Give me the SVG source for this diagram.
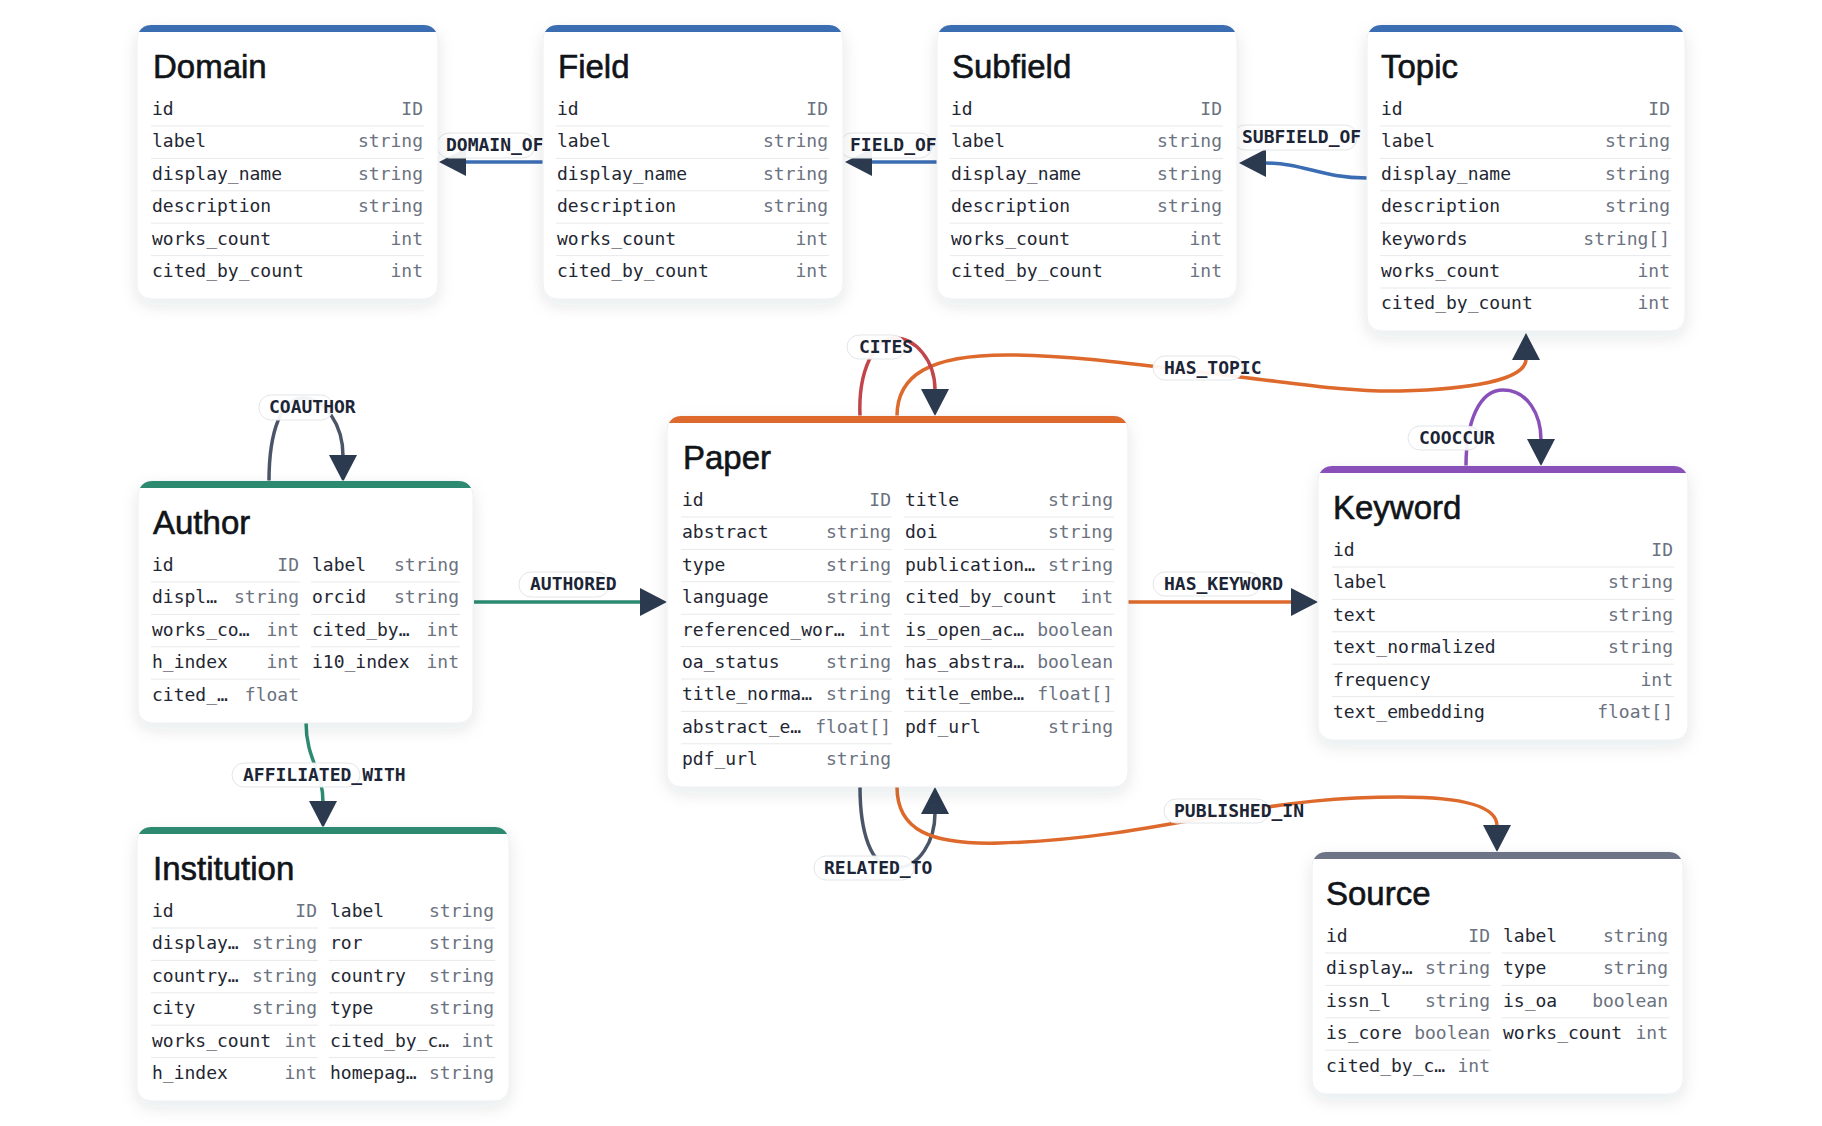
<svg xmlns="http://www.w3.org/2000/svg" width="1822" height="1126" viewBox="0 0 1822 1126">
<defs>
<style>
.title{font-family:"Liberation Sans",Arial,sans-serif;font-size:33px;fill:#111418;stroke:#111418;stroke-width:0.6}
.f{font-family:"DejaVu Sans Mono",monospace;font-size:18px;fill:#1f2733}
.t{font-family:"DejaVu Sans Mono",monospace;font-size:18px;fill:#6b7280;text-anchor:end}
.sep{stroke:#e7e9ec;stroke-width:1}
.card{fill:#ffffff;stroke:#eceef1;stroke-width:1;filter:url(#sh)}
.lb{fill:#ffffff;fill-opacity:0.93;stroke:#e2e5e9;stroke-width:1}
.lt{font-family:"DejaVu Sans Mono",monospace;font-size:18px;font-weight:bold;fill:#1c2536}
.e{fill:none;stroke-width:3.5;marker-end:url(#arr)}
.blue{fill:#3b6db3}.green{fill:#2d8a70}.orange{fill:#dd6a2c}.purple{fill:#8a50ba}.slate{fill:#6c7486}
</style>
<filter id="sh" x="-15%" y="-15%" width="130%" height="140%">
<feDropShadow dx="0" dy="6" stdDeviation="8" flood-color="#1f2937" flood-opacity="0.10"/>
</filter>
<marker id="arr" markerUnits="userSpaceOnUse" markerWidth="27" markerHeight="28" viewBox="0 0 27 28" refX="1" refY="14" orient="auto">
<path d="M0,0 L27,14 L0,28 Z" fill="#2c3a50"/>
</marker>
</defs>
<rect x="0" y="0" width="1822" height="1126" fill="#ffffff"/>

<g id="connectors">
<path id="e-domain-of" class="e" stroke="#3b6db3" d="M543,162 L465,162"/>
<path id="e-field-of" class="e" stroke="#3b6db3" d="M937,162 L871,162"/>
<path id="e-subfield-of" class="e" stroke="#3b6db3" d="M1367,178 C1320,178 1305,163 1265,163"/>
<path id="e-has-topic" class="e" stroke="#dd6a2c" d="M897,416 C897,375 930,355 1007,355 C1080,355 1160,368 1240,377 C1300,384 1350,392 1400,391 C1470,389 1526,380 1526,359"/>
<path id="e-cites" class="e" stroke="#c1454a" d="M860,416 C858,370 875,338 895,338 C915,338 935,360 935,390"/>
<path id="e-has-keyword" class="e" stroke="#dd6a2c" d="M1128,602 L1292,602"/>
<path id="e-cooccur" class="e" stroke="#8a50ba" d="M1466,466 C1466,420 1480,390 1503,390 C1528,390 1541,415 1541,440"/>
<path id="e-authored" class="e" stroke="#2d8a70" d="M474,602 L641,602"/>
<path id="e-coauthor" class="e" stroke="#4a5568" d="M269,481 C269,430 282,398 303,398 C325,398 343,425 343,456"/>
<path id="e-affiliated" class="e" stroke="#2d8a70" d="M306,722 C306,760 323,770 323,802"/>
<path id="e-related-to" class="e" stroke="#4a5568" d="M860,787 C860,830 870,868 895,868 C920,868 935,840 935,813"/>
<path id="e-published-in" class="e" stroke="#dd6a2c" d="M897,787 C897,830 930,845 1000,843 C1080,841 1150,828 1220,815 C1290,802 1340,797 1400,797 C1460,797 1497,805 1497,826"/>

<g id="edge-labels">
<rect class="lb" x="437" y="133" width="98" height="25" rx="12"/><text class="lt" x="446" y="151">DOMAIN_OF</text>
<rect class="lb" x="840" y="133" width="92" height="25" rx="12"/><text class="lt" x="850" y="151">FIELD_OF</text>
<rect class="lb" x="1233" y="125" width="124" height="25" rx="12"/><text class="lt" x="1242" y="143">SUBFIELD_OF</text>
<rect class="lb" x="1153" y="356" width="90" height="24" rx="12"/><text class="lt" x="1164" y="374">HAS_TOPIC</text>
<rect class="lb" x="847" y="335" width="58" height="24" rx="12"/><text class="lt" x="859" y="353">CITES</text>
<rect class="lb" x="1408" y="426" width="72" height="24" rx="12"/><text class="lt" x="1419" y="444">COOCCUR</text>
<rect class="lb" x="1153" y="572" width="107" height="24" rx="12"/><text class="lt" x="1164" y="590">HAS_KEYWORD</text>
<rect class="lb" x="519" y="572" width="90" height="25" rx="12"/><text class="lt" x="530" y="590">AUTHORED</text>
<rect class="lb" x="259" y="395" width="74" height="25" rx="12"/><text class="lt" x="269" y="413">COAUTHOR</text>
<rect class="lb" x="232" y="763" width="128" height="24" rx="12"/><text class="lt" x="243" y="781">AFFILIATED_WITH</text>
<rect class="lb" x="814" y="856" width="100" height="24" rx="12"/><text class="lt" x="824" y="874">RELATED_TO</text>
<rect class="lb" x="1164" y="799" width="105" height="24" rx="12"/><text class="lt" x="1174" y="817">PUBLISHED_IN</text>
</g>
</g>

<g id="node-domain">
<rect class="card" x="137" y="25" width="301" height="274" rx="14"/>
<path class="blue" d="M138.9,32 A14,14 0 0 1 151,25 H424 A14,14 0 0 1 436.1,32 Z"/>
<text class="title" x="153" y="78">Domain</text>
<text class="f" x="152" y="115">id</text><text class="t" x="423" y="115">ID</text>
<text class="f" x="152" y="147.4">label</text><text class="t" x="423" y="147.4">string</text>
<text class="f" x="152" y="179.8">display_name</text><text class="t" x="423" y="179.8">string</text>
<text class="f" x="152" y="212.2">description</text><text class="t" x="423" y="212.2">string</text>
<text class="f" x="152" y="244.6">works_count</text><text class="t" x="423" y="244.6">int</text>
<text class="f" x="152" y="277">cited_by_count</text><text class="t" x="423" y="277">int</text>
<path class="sep" d="M151,126H424M151,158.4H424M151,190.8H424M151,223.2H424M151,255.6H424"/>
</g>

<g id="node-field">
<rect class="card" x="543" y="25" width="300" height="274" rx="14"/>
<path class="blue" d="M544.9,32 A14,14 0 0 1 557,25 H829 A14,14 0 0 1 841.1,32 Z"/>
<text class="title" x="558" y="78">Field</text>
<text class="f" x="557" y="115">id</text><text class="t" x="828" y="115">ID</text>
<text class="f" x="557" y="147.4">label</text><text class="t" x="828" y="147.4">string</text>
<text class="f" x="557" y="179.8">display_name</text><text class="t" x="828" y="179.8">string</text>
<text class="f" x="557" y="212.2">description</text><text class="t" x="828" y="212.2">string</text>
<text class="f" x="557" y="244.6">works_count</text><text class="t" x="828" y="244.6">int</text>
<text class="f" x="557" y="277">cited_by_count</text><text class="t" x="828" y="277">int</text>
<path class="sep" d="M556,126H829M556,158.4H829M556,190.8H829M556,223.2H829M556,255.6H829"/>
</g>

<g id="node-subfield">
<rect class="card" x="937" y="25" width="300" height="274" rx="14"/>
<path class="blue" d="M938.9,32 A14,14 0 0 1 951,25 H1223 A14,14 0 0 1 1235.1,32 Z"/>
<text class="title" x="952" y="78">Subfield</text>
<text class="f" x="951" y="115">id</text><text class="t" x="1222" y="115">ID</text>
<text class="f" x="951" y="147.4">label</text><text class="t" x="1222" y="147.4">string</text>
<text class="f" x="951" y="179.8">display_name</text><text class="t" x="1222" y="179.8">string</text>
<text class="f" x="951" y="212.2">description</text><text class="t" x="1222" y="212.2">string</text>
<text class="f" x="951" y="244.6">works_count</text><text class="t" x="1222" y="244.6">int</text>
<text class="f" x="951" y="277">cited_by_count</text><text class="t" x="1222" y="277">int</text>
<path class="sep" d="M950,126H1223M950,158.4H1223M950,190.8H1223M950,223.2H1223M950,255.6H1223"/>
</g>

<g id="node-topic">
<rect class="card" x="1367" y="25" width="318" height="306" rx="14"/>
<path class="blue" d="M1368.9,32 A14,14 0 0 1 1381,25 H1671 A14,14 0 0 1 1683.1,32 Z"/>
<text class="title" x="1381" y="78">Topic</text>
<text class="f" x="1381" y="115">id</text><text class="t" x="1670" y="115">ID</text>
<text class="f" x="1381" y="147.4">label</text><text class="t" x="1670" y="147.4">string</text>
<text class="f" x="1381" y="179.8">display_name</text><text class="t" x="1670" y="179.8">string</text>
<text class="f" x="1381" y="212.2">description</text><text class="t" x="1670" y="212.2">string</text>
<text class="f" x="1381" y="244.6">keywords</text><text class="t" x="1670" y="244.6">string[]</text>
<text class="f" x="1381" y="277">works_count</text><text class="t" x="1670" y="277">int</text>
<text class="f" x="1381" y="309.4">cited_by_count</text><text class="t" x="1670" y="309.4">int</text>
<path class="sep" d="M1380,126H1671M1380,158.4H1671M1380,190.8H1671M1380,223.2H1671M1380,255.6H1671M1380,288H1671"/>
</g>

<g id="node-author">
<rect class="card" x="138" y="481" width="335" height="242" rx="14"/>
<path class="green" d="M139.9,488 A14,14 0 0 1 152,481 H459 A14,14 0 0 1 471.1,488 Z"/>
<text class="title" x="153" y="534">Author</text>
<text class="f" x="152" y="571">id</text><text class="t" x="299" y="571">ID</text>
<text class="f" x="312" y="571">label</text><text class="t" x="459" y="571">string</text>
<text class="f" x="152" y="603.4">displ…</text><text class="t" x="299" y="603.4">string</text>
<text class="f" x="312" y="603.4">orcid</text><text class="t" x="459" y="603.4">string</text>
<text class="f" x="152" y="635.8">works_co…</text><text class="t" x="299" y="635.8">int</text>
<text class="f" x="312" y="635.8">cited_by…</text><text class="t" x="459" y="635.8">int</text>
<text class="f" x="152" y="668.2">h_index</text><text class="t" x="299" y="668.2">int</text>
<text class="f" x="312" y="668.2">i10_index</text><text class="t" x="459" y="668.2">int</text>
<text class="f" x="152" y="700.6">cited_…</text><text class="t" x="299" y="700.6">float</text>
<path class="sep" d="M151,582H300M151,614.4H300M151,646.8H300M151,679.2H300M311,582H460M311,614.4H460M311,646.8H460"/>
</g>

<g id="node-paper">
<rect class="card" x="667" y="416" width="461" height="371" rx="14"/>
<path class="orange" d="M668.9,423 A14,14 0 0 1 681,416 H1114 A14,14 0 0 1 1126.1,423 Z"/>
<text class="title" x="683" y="469">Paper</text>
<text class="f" x="682" y="506">id</text><text class="t" x="891" y="506">ID</text>
<text class="f" x="682" y="538.4">abstract</text><text class="t" x="891" y="538.4">string</text>
<text class="f" x="682" y="570.8">type</text><text class="t" x="891" y="570.8">string</text>
<text class="f" x="682" y="603.2">language</text><text class="t" x="891" y="603.2">string</text>
<text class="f" x="682" y="635.6">referenced_wor…</text><text class="t" x="891" y="635.6">int</text>
<text class="f" x="682" y="668">oa_status</text><text class="t" x="891" y="668">string</text>
<text class="f" x="682" y="700.4">title_norma…</text><text class="t" x="891" y="700.4">string</text>
<text class="f" x="682" y="732.8">abstract_e…</text><text class="t" x="891" y="732.8">float[]</text>
<text class="f" x="682" y="765.2">pdf_url</text><text class="t" x="891" y="765.2">string</text>
<text class="f" x="905" y="506">title</text><text class="t" x="1113" y="506">string</text>
<text class="f" x="905" y="538.4">doi</text><text class="t" x="1113" y="538.4">string</text>
<text class="f" x="905" y="570.8">publication…</text><text class="t" x="1113" y="570.8">string</text>
<text class="f" x="905" y="603.2">cited_by_count</text><text class="t" x="1113" y="603.2">int</text>
<text class="f" x="905" y="635.6">is_open_ac…</text><text class="t" x="1113" y="635.6">boolean</text>
<text class="f" x="905" y="668">has_abstra…</text><text class="t" x="1113" y="668">boolean</text>
<text class="f" x="905" y="700.4">title_embe…</text><text class="t" x="1113" y="700.4">float[]</text>
<text class="f" x="905" y="732.8">pdf_url</text><text class="t" x="1113" y="732.8">string</text>
<path class="sep" d="M681,517H892M681,549.4H892M681,581.8H892M681,614.2H892M681,646.6H892M681,679H892M681,711.4H892M681,743.8H892M904,517H1114M904,549.4H1114M904,581.8H1114M904,614.2H1114M904,646.6H1114M904,679H1114M904,711.4H1114"/>
</g>

<g id="node-keyword">
<rect class="card" x="1318" y="466" width="370" height="274" rx="14"/>
<path class="purple" d="M1319.9,473 A14,14 0 0 1 1332,466 H1674 A14,14 0 0 1 1686.1,473 Z"/>
<text class="title" x="1333" y="519">Keyword</text>
<text class="f" x="1333" y="556">id</text><text class="t" x="1673" y="556">ID</text>
<text class="f" x="1333" y="588.4">label</text><text class="t" x="1673" y="588.4">string</text>
<text class="f" x="1333" y="620.8">text</text><text class="t" x="1673" y="620.8">string</text>
<text class="f" x="1333" y="653.2">text_normalized</text><text class="t" x="1673" y="653.2">string</text>
<text class="f" x="1333" y="685.6">frequency</text><text class="t" x="1673" y="685.6">int</text>
<text class="f" x="1333" y="718">text_embedding</text><text class="t" x="1673" y="718">float[]</text>
<path class="sep" d="M1332,567H1674M1332,599.4H1674M1332,631.8H1674M1332,664.2H1674M1332,696.6H1674"/>
</g>

<g id="node-institution">
<rect class="card" x="137" y="827" width="372" height="274" rx="14"/>
<path class="green" d="M138.9,834 A14,14 0 0 1 151,827 H495 A14,14 0 0 1 507.1,834 Z"/>
<text class="title" x="153" y="880">Institution</text>
<text class="f" x="152" y="917">id</text><text class="t" x="317" y="917">ID</text>
<text class="f" x="152" y="949.4">display…</text><text class="t" x="317" y="949.4">string</text>
<text class="f" x="152" y="981.8">country…</text><text class="t" x="317" y="981.8">string</text>
<text class="f" x="152" y="1014.2">city</text><text class="t" x="317" y="1014.2">string</text>
<text class="f" x="152" y="1046.6">works_count</text><text class="t" x="317" y="1046.6">int</text>
<text class="f" x="152" y="1079">h_index</text><text class="t" x="317" y="1079">int</text>
<text class="f" x="330" y="917">label</text><text class="t" x="494" y="917">string</text>
<text class="f" x="330" y="949.4">ror</text><text class="t" x="494" y="949.4">string</text>
<text class="f" x="330" y="981.8">country</text><text class="t" x="494" y="981.8">string</text>
<text class="f" x="330" y="1014.2">type</text><text class="t" x="494" y="1014.2">string</text>
<text class="f" x="330" y="1046.6">cited_by_c…</text><text class="t" x="494" y="1046.6">int</text>
<text class="f" x="330" y="1079">homepag…</text><text class="t" x="494" y="1079">string</text>
<path class="sep" d="M151,928H318M151,960.4H318M151,992.8H318M151,1025.2H318M151,1057.6H318M329,928H495M329,960.4H495M329,992.8H495M329,1025.2H495M329,1057.6H495"/>
</g>

<g id="node-source">
<rect class="card" x="1312" y="852" width="371" height="242" rx="14"/>
<path class="slate" d="M1313.9,859 A14,14 0 0 1 1326,852 H1669 A14,14 0 0 1 1681.1,859 Z"/>
<text class="title" x="1326" y="905">Source</text>
<text class="f" x="1326" y="942">id</text><text class="t" x="1490" y="942">ID</text>
<text class="f" x="1326" y="974.4">display…</text><text class="t" x="1490" y="974.4">string</text>
<text class="f" x="1326" y="1006.8">issn_l</text><text class="t" x="1490" y="1006.8">string</text>
<text class="f" x="1326" y="1039.2">is_core</text><text class="t" x="1490" y="1039.2">boolean</text>
<text class="f" x="1326" y="1071.6">cited_by_c…</text><text class="t" x="1490" y="1071.6">int</text>
<text class="f" x="1503" y="942">label</text><text class="t" x="1668" y="942">string</text>
<text class="f" x="1503" y="974.4">type</text><text class="t" x="1668" y="974.4">string</text>
<text class="f" x="1503" y="1006.8">is_oa</text><text class="t" x="1668" y="1006.8">boolean</text>
<text class="f" x="1503" y="1039.2">works_count</text><text class="t" x="1668" y="1039.2">int</text>
<path class="sep" d="M1325,953H1491M1325,985.4H1491M1325,1017.8H1491M1325,1050.2H1491M1502,953H1669M1502,985.4H1669M1502,1017.8H1669"/>
</g>
</svg>
